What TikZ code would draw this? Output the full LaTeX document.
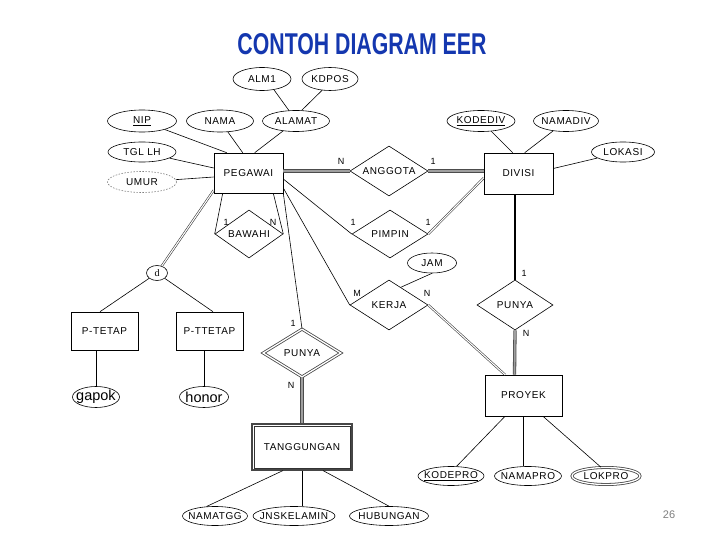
\documentclass[tikz,border=0pt]{standalone}
\usepackage{fontspec}
\usepackage{graphicx}
\setmainfont{Liberation Sans}
\newfontfamily\lblfont[LetterSpace=6]{Liberation Sans}
\newfontfamily\seriffont{Liberation Serif}
\usetikzlibrary{shapes.geometric,calc}
\definecolor{titleblue}{RGB}{20,55,175}
\begin{document}
\begin{tikzpicture}[x=1pt,y=-1pt,
  lbl/.style={font=\lblfont\fontsize{10}{11}\selectfont},
  ent/.style={draw, rectangle, inner sep=0pt, line width=0.6pt, lbl},
  rel/.style={draw, diamond, aspect=1.6, inner sep=0pt, line width=0.6pt, lbl},
  att/.style={draw, ellipse, inner xsep=-7pt, inner ysep=0pt, line width=0.6pt, lbl},
  card/.style={font=\fontsize{9}{10}\selectfont, inner sep=0pt},
  ln/.style={line width=0.6pt},
  heavy/.style={draw=gray!60!black, double=gray!75, double distance=1.7pt, line width=0.8pt},
  dbl/.style={draw=black!80, double=white, double distance=1.1pt, line width=0.55pt},
  dblborder/.style={double=white, draw=gray!55!black, double distance=1.3pt, line width=0.8pt},
]
\useasboundingbox (0,0) rectangle (720,540);
\fill[white] (0,0) rectangle (720,540);

% title and page number
\node[text=titleblue, inner sep=0pt] (title) at (362,44) {\resizebox{249pt}{21pt}{\bfseries CONTOH DIAGRAM EER}};
\node[text=gray, inner sep=0pt] (pg) at (669,515) {\fontsize{11}{12}\selectfont 26};

% entities
\node[ent, minimum width=69pt, minimum height=40pt] (pegawai) at (248.5,173) {PEGAWAI};
\node[ent, minimum width=69pt, minimum height=41pt] (divisi) at (518.5,173.5) {DIVISI};
\node[ent, minimum width=67pt, minimum height=38pt] (ptetap) at (104.5,331) {P-TETAP};
\node[ent, minimum width=67pt, minimum height=38pt] (pttetap) at (209.5,331) {P-TTETAP};
\node[ent, minimum width=77pt, minimum height=41pt] (proyek) at (523.5,395.5) {PROYEK};
\node[ent, draw=gray!55!black, line width=1.1pt, minimum width=100pt, minimum height=46pt] (tanggungan) at (302,447) {TANGGUNGAN};
\draw[gray!40!black, line width=0.6pt] ([shift={(2.4pt,2.4pt)}]tanggungan.south west) rectangle ([shift={(-2.4pt,-2.4pt)}]tanggungan.north east);

% relationships
\node[rel, minimum width=78pt, minimum height=50pt] (anggota) at (389,171) {ANGGOTA};
\node[rel, minimum width=76pt, minimum height=48pt] (pimpin) at (390,234) {PIMPIN};
\node[rel, minimum width=68pt, minimum height=48pt] (bawahi) at (249,234) {BAWAHI};
\node[rel, minimum width=78pt, minimum height=50pt] (kerja) at (389,305) {KERJA};
\node[rel, minimum width=76pt, minimum height=50pt] (punyad) at (515,305) {PUNYA};
\node[rel, dblborder, minimum width=78pt, minimum height=48pt] (punyat) at (302,353) {PUNYA};

% specialization circle
\node[draw, ellipse, line width=0.6pt, minimum width=21pt, minimum height=15pt, inner sep=0pt, font=\seriffont\fontsize{10}{11}\selectfont] (d) at (157,273) {d};

% attributes
\node[att, minimum width=58pt, minimum height=23pt] (alm1) at (262,79) {ALM1};
\node[att, minimum width=56pt, minimum height=23pt] (kdpos) at (330,79) {KDPOS};
\node[att, minimum width=67pt, minimum height=21pt] (alamat) at (296,121) {ALAMAT};
\node[att, minimum width=69pt, minimum height=22pt] (nip) at (142,121) {\underline{NIP}};
\node[att, minimum width=67pt, minimum height=22pt] (nama) at (220,121) {NAMA};
\node[att, minimum width=68pt, minimum height=20pt] (tgllh) at (142,152) {TGL LH};
\node[att, draw=gray, dash pattern=on 1.5pt off 1.5pt, minimum width=69pt, minimum height=21pt] (umur) at (142,182) {UMUR};
\node[att, minimum width=68pt, minimum height=21pt] (kodediv) at (481,121) {\underline{KODEDIV}};
\node[att, minimum width=65pt, minimum height=21pt] (namadiv) at (566,121) {NAMADIV};
\node[att, minimum width=63pt, minimum height=20pt] (lokasi) at (623,152) {LOKASI};
\node[att, minimum width=49pt, minimum height=20pt] (jam) at (432,263) {JAM};
\node[att, minimum width=47pt, minimum height=21pt, font=\fontsize{14.5}{15}\selectfont] (gapok) at (96,397) {gapok};
\node[att, minimum width=49pt, minimum height=21pt, font=\fontsize{14.5}{15}\selectfont] (honor) at (204,397) {honor};
\node[att, minimum width=65pt, minimum height=19pt] (namatgg) at (215,516) {NAMATGG};
\node[att, minimum width=82pt, minimum height=19pt] (jnskelamin) at (294,516) {JNSKELAMIN};
\node[att, minimum width=79pt, minimum height=19pt] (hubungan) at (389,516) {HUBUNGAN};
\node[att, minimum width=66pt, minimum height=19pt] (kodepro) at (451,476) {\underline{KODEPRO}};
\node[att, minimum width=67pt, minimum height=19pt] (namapro) at (528,476) {NAMAPRO};
\node[att, dblborder, minimum width=68pt, minimum height=17pt] (lokpro) at (606,476) {LOKPRO};

% cardinality labels
\node[card] (cAn1) at (341,161) {N};
\node[card] (cAn2) at (433,161) {1};
\node[card] (cPi1) at (353,222) {1};
\node[card] (cPi2) at (428,222) {1};
\node[card] (cBa1) at (226,222) {1};
\node[card] (cBa2) at (273,222) {N};
\node[card] (cKe1) at (357,293) {M};
\node[card] (cKe2) at (427,293) {N};
\node[card] (cPd1) at (524,273) {1};
\node[card] (cPd2) at (526,333) {N};
\node[card] (cPt1) at (293,323) {1};
\node[card] (cPt2) at (291,385) {N};

% connectors: PEGAWAI attributes
\draw[ln] (nip) -- ([xshift=13pt]pegawai.north west);
\draw[ln] (nama) -- ([xshift=29pt]pegawai.north west);
\draw[ln] (alamat) -- ([xshift=41pt]pegawai.north west);
\draw[ln] (alm1.-42) -- (alamat.124);
\draw[ln] (kdpos.-125) -- (alamat.62);
\draw[ln] (tgllh) -- ([yshift=5pt]pegawai.west);
\draw[ln] (umur) -- ([yshift=-4pt]pegawai.west);

% PEGAWAI relationships
\draw[heavy] ([yshift=2pt]pegawai.east) -- (anggota.west);
\draw[heavy] (anggota.east) -- ([yshift=2.5pt]divisi.west);
\draw[ln] ([yshift=-6pt]pegawai.east) -- (pimpin.west);
\draw[dbl] (pimpin.east) -- ([yshift=-4.5pt]divisi.west);
\draw[ln] ([yshift=-15pt]pegawai.east) -- (kerja.west);
\draw[ln] (pegawai.south east) -- (punyat.north);
\draw[ln] ([xshift=9pt]pegawai.south west) -- (bawahi.west);
\draw[ln] ([xshift=-10pt]pegawai.south east) -- (bawahi.east);
\draw[dbl] ([yshift=3pt]pegawai.south west) -- (d);
\draw[ln] (d) -- ([xshift=-4.5pt]ptetap.north);
\draw[ln] (d) -- ([xshift=3.5pt]pttetap.north);
\draw[ln] ([xshift=-8.5pt]ptetap.south) -- (gapok.north);
\draw[ln] ([xshift=-5.5pt]pttetap.south) -- (honor.north);

% DIVISI
\draw[ln] (kodediv) -- ([xshift=29pt]divisi.north west);
\draw[ln] (namadiv) -- ([xshift=41pt]divisi.north west);
\draw[ln] (lokasi) -- ([yshift=5pt]divisi.east);
\draw[line width=1.2pt] ([xshift=-3.5pt]divisi.south) -- (punyad.north);
\draw[heavy] (punyad.south) -- ([xshift=-9pt]proyek.north);

% KERJA
\draw[ln] (jam.south) -- ($(kerja.north)!0.3!(kerja.east)$);
\draw[dbl] (kerja.east) -- ([xshift=-18.5pt]proyek.north);

% TANGGUNGAN
\draw[heavy] (punyat.south) -- (tanggungan.north);
\draw[ln] ([xshift=-19pt]tanggungan.south) -- (namatgg.132);
\draw[ln] (tanggungan.south) -- (tanggungan.south |- jnskelamin.north);
\draw[ln] ([xshift=21pt]tanggungan.south) -- (hubungan.north);

% PROYEK
\draw[ln] ([xshift=-18.5pt]proyek.south) -- (kodepro.60);
\draw[ln] (proyek.south) -- (proyek.south |- namapro.north);
\draw[ln] ([xshift=19.5pt]proyek.south) -- (lokpro.120);
\end{tikzpicture}
\end{document}
